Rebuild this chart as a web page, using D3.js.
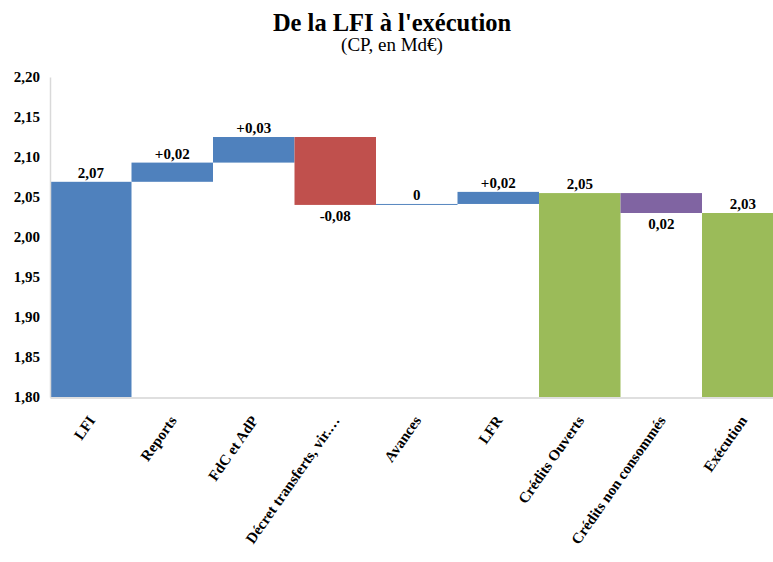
<!DOCTYPE html>
<html>
<head>
<meta charset="utf-8">
<script src="https://cdn.jsdelivr.net/npm/d3@7"></script>
<style>
  html, body { margin: 0; padding: 0; background: #fff; overflow: hidden; }
  svg { display: block; }
  svg text { font-family: "Liberation Serif", "Times New Roman", serif !important; }
</style>
</head>
<body>
<svg id="chart" width="773" height="562"></svg>
<script>
// Waterfall steps from the initial finance law to execution (CP, Md€)
const categories = ["LFI", "Reports", "FdC et AdP", "Décret transferts, vir.…", "Avances",
                    "LFR", "Crédits Ouverts", "Crédits non consommés", "Exécution"];
const values = [2.069, 0.024, 0.032, -0.0849, 0.0012, 0.0151, 2.0549, -0.0249, 2.030];
const stepKinds = ["total", "delta", "delta", "delta", "delta", "delta", "total", "delta", "total"];
const labelModes = ["plain", "signed", "signed", "signed", "signed", "signed", "plain", "absolute", "plain"];
const yTicks = [1.80, 1.85, 1.90, 1.95, 2.00, 2.05, 2.10, 2.15, 2.20];

const fr = d3.formatLocale({ decimal: ",", thousands: " ", grouping: [3], currency: ["", " €"], minus: "-" });
const f2 = fr.format(".2f");

const palette = { blue: "#4f81bd", red: "#c0504d", green: "#9bbb59", purple: "#8064a2" };
function barColor(i, v) {
  const name = categories[i];
  if (name === "Crédits Ouverts" || name === "Exécution") return palette.green;
  if (name === "Crédits non consommés") return palette.purple;
  return v < 0 ? palette.red : palette.blue;
}
function labelText(i, v) {
  const mode = labelModes[i];
  if (mode === "plain") return f2(v);
  if (mode === "absolute") return f2(Math.abs(v));
  if (Math.abs(v) < 0.005) return "0";
  return (v > 0 ? "+" : "") + f2(v);
}

// Running totals give each floating bar its start and end
let running = 0;
const bars = values.map((v, i) => {
  let y0, y1;
  if (stepKinds[i] === "total") { y0 = yTicks[0]; y1 = v; running = v; }
  else { y0 = running; y1 = running + v; running = y1; }
  return { i, name: categories[i], v, y0, y1 };
});

const serif = '"Liberation Serif", "Times New Roman", serif';
const svg = d3.select("#chart");
const x = d3.scaleBand().domain(categories).range([50, 783.5]).padding(0);
const y = d3.scaleLinear().domain([1.80, 2.20]).range([397, 77]);

// Title
svg.append("text").attr("x", 392).attr("y", 31).attr("text-anchor", "middle")
  .style("font-family", serif).style("font-size", "24.5px").style("font-weight", "bold").attr("fill", "#000")
  .text("De la LFI à l'exécution");
svg.append("text").attr("x", 392).attr("y", 51).attr("text-anchor", "middle")
  .style("font-family", serif).style("font-size", "19px").attr("fill", "#000")
  .text("(CP, en Md€)");

// Bars
svg.append("g").selectAll("rect").data(bars).join("rect")
  .attr("x", d => x(d.name))
  .attr("width", x.bandwidth())
  .attr("y", d => y(Math.max(d.y0, d.y1)))
  .attr("height", d => Math.abs(y(d.y0) - y(d.y1)))
  .attr("fill", d => barColor(d.i, d.v));

// Y axis
const yAxis = d3.axisLeft(y).tickValues(yTicks).tickFormat(f2).tickSize(0).tickPadding(10);
const gy = svg.append("g").attr("transform", "translate(50,0)").call(yAxis);
gy.select(".domain").attr("stroke", "#d9d9d9").attr("stroke-width", 1.5);
gy.selectAll("text").style("font-family", serif)
  .style("font-size", "15px").style("font-weight", "bold").attr("fill", "#000");

// X axis
const xAxis = d3.axisBottom(x).tickSize(0).tickPadding(0);
const gx = svg.append("g").attr("transform", "translate(0,397.5)").call(xAxis);
gx.select(".domain").attr("stroke", "#d9d9d9").attr("stroke-opacity", 0.85).attr("stroke-width", 2);
gx.selectAll("text")
  .style("font-family", serif)
  .style("font-size", "15px").style("font-weight", "bold").attr("fill", "#000")
  .attr("text-anchor", "end")
  .attr("dy", 0)
  .attr("transform", "translate(5,23) rotate(-55)");

// Value labels
svg.append("g").selectAll("text").data(bars).join("text")
  .attr("x", d => x(d.name) + x.bandwidth() / 2)
  .attr("y", d => d.v < 0 && d.i > 0 ? y(Math.min(d.y0, d.y1)) + 16 : y(Math.max(d.y0, d.y1)) - 4)
  .attr("text-anchor", "middle")
  .style("font-family", serif)
  .style("font-size", "15px").style("font-weight", "bold").attr("fill", "#000")
  .text(d => labelText(d.i, d.v));
</script>
</body>
</html>
